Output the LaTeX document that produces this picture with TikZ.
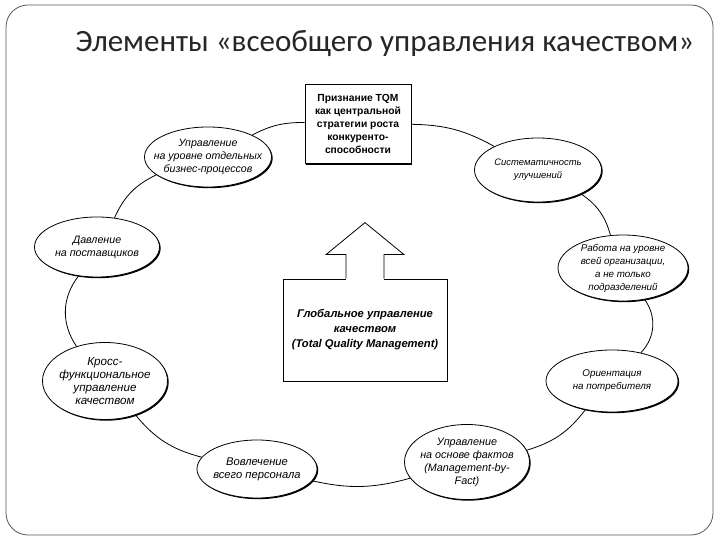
\documentclass[tikz,border=0pt]{standalone}
\usepackage{fontspec}
\setmainfont{Liberation Sans}
\newfontfamily\titlefont{Carlito}
\usetikzlibrary{shapes.geometric,shadows,arrows.meta}

\begin{document}
\begin{tikzpicture}[x=1pt,y=1pt,line width=0.8pt,
elem/.style n args={3}{draw,ellipse,fill=white,inner xsep=-14pt,inner ysep=-8pt,align=center,
 minimum width=#1,minimum height=#2,font=\itshape\fontsize{#3}{13}\selectfont,
 drop shadow={shadow xshift=1.2pt,shadow yshift=-1.2pt,fill=black,opacity=1}},
box/.style 2 args={draw,rectangle,fill=white,inner sep=0pt,align=center,
 minimum width=#1,minimum height=#2,
 drop shadow={shadow xshift=1.2pt,shadow yshift=-1.2pt,fill=black,opacity=1}},
ring/.style={bend left=#1}]
\fill[white](0,0)rectangle(720,540);
\useasboundingbox(0,0)rectangle(720,540);
\draw[rounded corners=22pt,gray!70!black](6,5)rectangle(713,535);
\node[anchor=base west,font=\titlefont\fontsize{31}{33}\selectfont,text=black!85](title)at(72,488)
{Элементы «всеобщего управления качеством»};

\node[box={106}{79},font=\bfseries\fontsize{10.3}{13}\selectfont](tqm)at(358,416)
{Признание TQM\\как центральной\\стратегии роста\\конкуренто-\\способности};
\node[elem={127}{64}{9.4}](sys)at(538,370){Систематичность\\улучшений};
\node[elem={130}{66}{9.8}](org)at(623,272){Работа на уровне\\всей организации,\\а не только\\подразделений};
\node[elem={132}{62}{9.8}](cust)at(612,159){Ориентация\\на потребителя};
\node[elem={125}{75}{10.8}](fact)at(467,78){Управление\\на основе фактов\\(Management-by-\\Fact)};
\node[elem={120}{58}{11.2}](staff)at(257,71){Вовлечение\\всего персонала};
\node[elem={125}{77}{11.6}](cross)at(105,159){Кросс-\\функциональное\\управление\\качеством};
\node[elem={125}{60}{10.7}](suppl)at(97,293){Давление\\на поставщиков};
\node[elem={127}{60}{10.6}](proc)at(208,383){Управление\\на уровне отдельных\\бизнес-процессов};

\draw(tqm)to[ring=14](sys)
(sys)to[ring=20](org)
(org)to[ring=40](cust)
(cust)to[ring=18](fact)
(fact)to[ring=14](staff)
(staff)to[ring=18](cross)
(cross)to[ring=36](suppl)
(suppl)to[ring=20](proc)
(proc)to[ring=14](tqm);

\node[box={164}{102},font=\bfseries\itshape\fontsize{11.2}{15}\selectfont](gqm)at(365,210)
{Глобальное управление\\качеством\\(Total Quality Management)};
\fill[white]([xshift=-18.6pt,yshift=-1pt]gqm.north)rectangle([xshift=18.6pt,yshift=2pt]gqm.north);
\draw(gqm.north)++(-19,0)--++(0,24)--++(-20,0)--++(39,32)--++(39,-32)--++(-20,0)--++(0,-24);
\end{tikzpicture}
\end{document}
